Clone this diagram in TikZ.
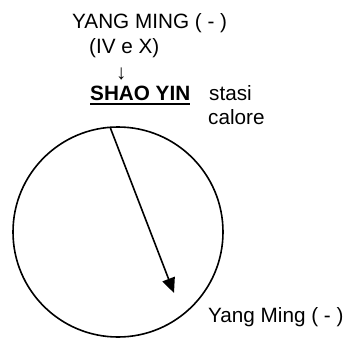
\documentclass[tikz,border=0pt]{standalone}
\usepackage{fontspec}
\setmainfont{Liberation Sans}
\usetikzlibrary{arrows.meta}
\begin{document}
\begin{tikzpicture}[x=1pt,y=-1pt,
  lbl/.style={anchor=base west,inner sep=0pt,font=\fontsize{20.7}{24}\selectfont},
  ln/.style={line width=1.6pt,black}]
\useasboundingbox (0,0) rectangle (345,340);
\node[lbl] (ym) at (72,28) {YANG MING ( - )};
\node[lbl] (ivx) at (89,53) {(IV e X)};
\node[lbl] (down) at (116,79) {↓};
\node[lbl,font=\fontsize{20.7}{24}\selectfont\bfseries] (shao) at (90,100.7) {SHAO YIN};
\draw[line width=1.8pt] ([yshift=-3pt]shao.base west) -- ([yshift=-3pt]shao.base east);
\node[lbl] (stasi) at (209,100.7) {stasi};
\node[lbl] (calore) at (208,124.5) {calore};
\node[draw,circle,ln,minimum size=210pt,inner sep=0pt] (c) at (118,232) {};
\coordinate (a) at (110,127);
\coordinate (b) at (174,293);
\draw[ln,-{Triangle[length=15pt,width=13pt]}] (a) -- (b);
\node[lbl] (yangm) at (208,322.7) {Yang Ming ( - )};
\end{tikzpicture}
\end{document}
